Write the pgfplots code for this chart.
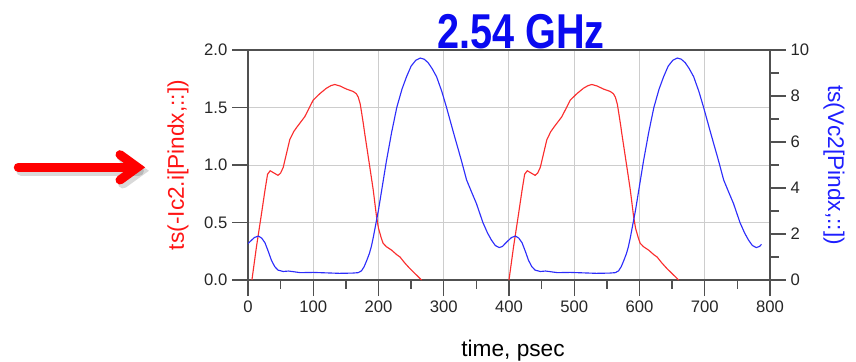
\documentclass[border=0pt]{standalone}
\usepackage{fontspec}
\setmainfont{Liberation Sans}
\usepackage{pgfplots}
\pgfplotsset{compat=1.18}
\definecolor{cred}{RGB}{250,45,45}
\definecolor{cblue}{RGB}{45,45,250}
\definecolor{axgray}{RGB}{80,80,80}
\definecolor{gridgray}{RGB}{205,205,205}
\definecolor{titleblue}{RGB}{10,10,240}
\definecolor{labred}{RGB}{255,20,20}
\definecolor{labblue}{RGB}{30,30,255}
\definecolor{arrred}{RGB}{255,0,0}
\begin{document}
\begin{tikzpicture}
\useasboundingbox (-186pt,-60.75pt) rectangle (456pt,210pt);
% annotation arrow (shadow, then arrow)
\begin{scope}[xshift=2.2pt,yshift=-2.6pt,line width=7.5pt,line cap=round,line join=miter,draw=black,opacity=0.15]
\draw (-172.3pt,84.5pt) -- (-84pt,84.5pt);
\draw (-96pt,94pt) -- (-82.9pt,84.5pt) -- (-96pt,75pt);
\end{scope}
\begin{scope}[line width=6.75pt,line cap=round,line join=miter,draw=arrred]
\draw (-172.3pt,84.5pt) -- (-84pt,84.5pt);
\draw (-96pt,94pt) -- (-82.9pt,84.5pt) -- (-96pt,75pt);
\end{scope}
\pgfplotsset{
  common/.style={
    at={(0pt,0pt)}, anchor=south west,
    scale only axis, width=391.5pt, height=172.5pt,
    xmin=0, xmax=800,
    tick align=outside,
    major tick length=12pt, minor tick length=6.5pt,
    every tick/.style={axgray, line width=1pt},
    axis line style={axgray, line width=1.1pt},
    tick label style={font=\fontsize{12.5}{14}\selectfont, text=black!85},
    /pgf/number format/assume math mode=true,
    label style={font=\fontsize{17}{20}\selectfont},
    clip mode=individual,
  }
}
\begin{axis}[common,
  ymin=0, ymax=2,
  xtick={0,100,...,800}, minor xtick={50,150,...,750},
  ytick={0,0.5,1,1.5,2},
  xtick pos=bottom, ytick pos=left,
  yticklabel style={/pgf/number format/.cd, fixed, fixed zerofill, precision=1},
  grid=major,
  major grid style={gridgray, line width=0.75pt},
  minor grid style={draw=none},
  xlabel={time, psec},
  xlabel style={at={(axis description cs:0.5077,-0.3335)}, anchor=base},
  ylabel={ts(-Ic2.i[Pindx,::])},
  ylabel style={at={(axis description cs:-0.1341,0.5)}, anchor=center, rotate=0, text=labred},
]
\addplot[cred, line width=0.85pt] coordinates {
(6,0) (13,0.29) (20,0.55) (26,0.78) (30,0.92) (34,0.95) (40,0.93) (46,0.91)
(50,0.93) (54,0.98) (59,1.1) (64,1.22) (70,1.29) (75,1.33) (87,1.42) (100,1.565)
(110,1.62) (120,1.667) (127,1.69) (133,1.70) (141,1.687) (151,1.66) (161,1.64)
(166,1.62) (169,1.59) (172,1.53) (174,1.46) (177,1.35) (179,1.27) (183,1.12)
(187,0.97) (192,0.78) (197,0.55) (200,0.45) (204,0.37) (207,0.32) (212,0.29)
(220,0.26) (228,0.22) (233,0.2) (240,0.15) (248,0.10) (257,0.05) (266,0)
};
\addplot[cred, line width=0.85pt] coordinates {
(400,0) (407,0.29) (414,0.55) (420,0.78) (424,0.92) (428,0.95) (434,0.93) (440,0.91)
(444,0.93) (448,0.98) (453,1.1) (458,1.22) (464,1.29) (469,1.33) (481,1.42) (494,1.565)
(504,1.62) (514,1.667) (521,1.69) (527,1.70) (535,1.687) (545,1.66) (555,1.64)
(560,1.62) (563,1.59) (566,1.53) (568,1.46) (571,1.35) (573,1.27) (577,1.12)
(581,0.97) (586,0.78) (591,0.55) (594,0.45) (598,0.37) (601,0.32) (606,0.29)
(614,0.26) (622,0.22) (627,0.2) (634,0.15) (642,0.10) (651,0.05) (660,0)
};
\node[anchor=base, text=titleblue, inner sep=0pt] at (axis description cs:0.523,1.0087)
  {\scalebox{0.81}[1]{\fontsize{36.7}{40}\selectfont\bfseries 2.54 GHz}};
\end{axis}
\begin{axis}[common,
  ymin=0, ymax=10,
  axis x line=none,
  axis y line*=right,
  ytick={0,2,...,10}, minor ytick={1,3,...,9},
  ylabel={ts(Vc2[Pindx,::])},
  ylabel style={at={(axis description cs:1.1226,0.5)}, anchor=center, rotate=180, text=labblue},
]
\addplot[cblue, line width=0.85pt] coordinates {
(0,1.58) (5,1.72) (10,1.85) (16,1.91) (21,1.82) (26,1.62) (31,1.25) (36,0.85)
(41,0.58) (46,0.43) (54,0.37) (62,0.39) (70,0.36) (80,0.32) (100,0.33) (120,0.31)
(140,0.29) (160,0.30) (169,0.32) (174,0.40) (178,0.58) (182,0.85) (186,1.15)
(189,1.45) (192,1.85) (196,2.45) (200,3.05) (204,3.75) (208,4.45) (212,5.15)
(220,6.4) (228,7.5) (236,8.3) (243,8.84) (250,9.3) (257,9.55) (264,9.65) (270,9.6)
(276,9.45) (282,9.2) (289,8.84) (297,8.2) (304,7.53) (315,6.4) (327,5.2) (335,4.35)
(343,3.8) (350,3.33) (360,2.5) (367,2.05) (373,1.74) (379,1.5) (385,1.41) (390,1.46)
(394,1.58) (399,1.72) (404,1.85) (410,1.91) (415,1.82) (420,1.62) (425,1.25) (430,0.85)
(435,0.58) (440,0.43) (448,0.37) (456,0.39) (464,0.36) (474,0.32) (494,0.33) (514,0.31)
(534,0.29) (554,0.30) (563,0.32) (568,0.40) (572,0.58) (576,0.85) (580,1.15)
(583,1.45) (586,1.85) (590,2.45) (594,3.05) (598,3.75) (602,4.45) (606,5.15)
(614,6.4) (622,7.5) (630,8.3) (637,8.84) (644,9.3) (651,9.55) (658,9.65) (664,9.6)
(670,9.45) (676,9.2) (683,8.84) (691,8.2) (698,7.53) (709,6.4) (721,5.2) (729,4.35)
(737,3.8) (744,3.33) (754,2.5) (761,2.05) (767,1.74) (773,1.5) (779,1.41) (784,1.46)
(787,1.55)
};
\end{axis}
\end{tikzpicture}
\end{document}
